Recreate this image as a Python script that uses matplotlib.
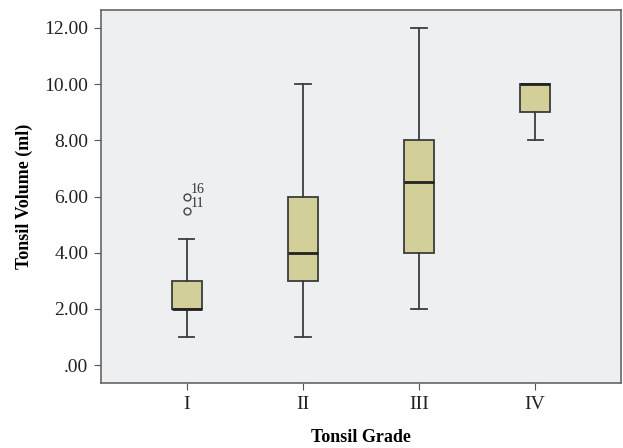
import matplotlib.pyplot as plt

plt.rcParams.update({
    "font.family": "Liberation Serif",
    "font.size": 14,
})

grades = ['I', 'II', 'III', 'IV']
whislo = [1.0, 1.0, 2.0, 8.0]
q1 = [2.0, 3.0, 4.0, 9.0]
med = [2.0, 4.0, 6.5, 10.0]
q3 = [3.0, 6.0, 8.0, 10.0]
whishi = [4.5, 10.0, 12.0, 10.0]
outliers = [[5.5, 6.0], [], [], []]
outlier_ids = [['11', '16'], [], [], []]
yticks = [0, 2, 4, 6, 8, 10, 12]
ylabels = ['.00', '2.00', '4.00', '6.00', '8.00', '10.00', '12.00']

stats = []
for i, g in enumerate(grades):
    stats.append(dict(label=g, whislo=whislo[i], q1=q1[i], med=med[i], q3=q3[i],
                      whishi=whishi[i], fliers=outliers[i]))

fig = plt.figure(figsize=(6.23, 4.48), dpi=100)
ax = fig.add_axes([101/623, 1 - 383/448, 520/623, 373/448])
ax.set_facecolor('#eeeff1')

edge = '#3c3c3c'
ax.bxp(stats, positions=range(1, 5), widths=0.26, patch_artist=True,
       boxprops=dict(facecolor='#d3cf99', edgecolor=edge, linewidth=1.3),
       medianprops=dict(color='#222222', linewidth=2),
       whiskerprops=dict(color=edge, linewidth=1.3),
       capprops=dict(color=edge, linewidth=1.3),
       capwidths=0.13,
       flierprops=dict(marker='o', markersize=5, markerfacecolor='none',
                       markeredgecolor='#444444', markeredgewidth=1))

# case numbers next to the outliers
for i, ids in enumerate(outlier_ids):
    for v, lab in zip(outliers[i], ids):
        ax.text(i + 1 + 0.03, v + 0.02, lab, fontsize=10, va='bottom', ha='left', color='#333333')

ax.set_xlim(0.26, 4.74)
ax.set_ylim(-0.64, 12.64)
ax.set_yticks(yticks)
ax.set_yticklabels(ylabels)
ax.set_xticks(range(1, 5))
ax.set_xticklabels(grades)
ax.tick_params(direction='out', length=5, color='#555555', labelcolor='#222222', pad=4)
for s in ax.spines.values():
    s.set_color('#666666')
    s.set_linewidth(1.2)

ax.set_xlabel('Tonsil Grade', fontweight='bold', fontsize=13, labelpad=12)
ax.set_ylabel('Tonsil Volume (ml)', fontweight='bold', fontsize=13, labelpad=8)

fig.savefig('out.png', dpi=100)
